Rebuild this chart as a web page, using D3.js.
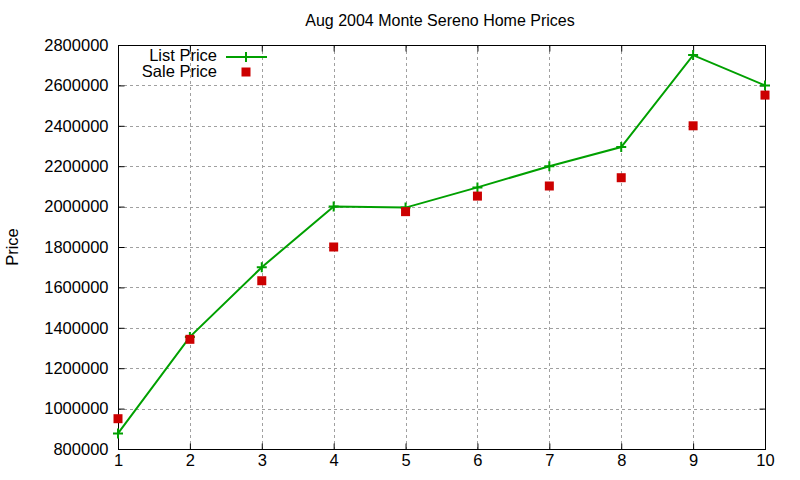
<!DOCTYPE html>
<html>
<head>
<meta charset="utf-8">
<script src="https://cdn.jsdelivr.net/npm/d3@7"></script>
<style>
  body { margin: 0; background: #fff; }
  text { font-family: "Liberation Sans", Arial, sans-serif; fill: #000; }
</style>
</head>
<body>
<svg id="chart" width="800" height="480"></svg>
<script>
// data
const houses = [1, 2, 3, 4, 5, 6, 7, 8, 9, 10];
const listPrice = [877000, 1355000, 1700000, 2000000, 1995000, 2095000, 2200000, 2295000, 2750000, 2600000];
const salePrice = [950000, 1343000, 1633000, 1800000, 1975000, 2052000, 2102000, 2143000, 2400000, 2552000];
const yTicks = [800000, 1000000, 1200000, 1400000, 1600000, 1800000, 2000000, 2200000, 2400000, 2600000, 2800000];

const svg = d3.select("#chart");
const plotL = 118, plotR = 765, plotT = 45, plotB = 449;
const fs = 16.5;

const x = d3.scaleLinear().domain([1, 10]).range([plotL, plotR]);
const y = d3.scaleLinear().domain([800000, 2800000]).range([plotB, plotT]);

// grid
const grid = svg.append("g").attr("stroke", "#a0a0a0").attr("stroke-width", 1).attr("stroke-dasharray", "3,3");
grid.selectAll("line.gx").data(houses.slice(1, -1)).join("line")
    .attr("x1", d => Math.round(x(d)) + 0.5).attr("x2", d => Math.round(x(d)) + 0.5)
    .attr("y1", plotT).attr("y2", plotB);
grid.selectAll("line.gy").data(yTicks.slice(1, -1)).join("line")
    .attr("y1", d => Math.round(y(d)) + 0.5).attr("y2", d => Math.round(y(d)) + 0.5)
    .attr("x1", plotL).attr("x2", plotR);

// axes, ticks inward and mirrored like gnuplot
const tick = 6;
const yAxis = d3.axisLeft(y).tickValues(yTicks).tickSize(-tick).tickPadding(10).tickFormat(d3.format("d"));
const xAxis = d3.axisBottom(x).tickValues(houses).tickSize(-tick).tickPadding(5).tickFormat(d3.format("d"));

svg.append("g").attr("transform", `translate(${plotL + 0.5},0)`).call(yAxis);
svg.append("g").attr("transform", `translate(0,${plotB + 0.5})`).call(xAxis);
svg.append("g").attr("transform", `translate(${plotR + 0.5},0)`)
    .call(d3.axisRight(y).tickValues(yTicks).tickSize(-tick).tickFormat(""));
svg.append("g").attr("transform", `translate(0,${plotT + 0.5})`)
    .call(d3.axisTop(x).tickValues(houses).tickSize(-tick).tickFormat(""));

svg.selectAll(".domain").remove();
svg.selectAll(".tick line").attr("stroke", "#000");
svg.selectAll(".tick text").attr("font-size", fs).attr("font-family", "Liberation Sans, Arial, sans-serif");

// border
svg.append("rect")
    .attr("x", plotL + 0.5).attr("y", plotT + 0.5)
    .attr("width", plotR - plotL).attr("height", plotB - plotT)
    .attr("fill", "none").attr("stroke", "#000").attr("stroke-width", 1);

// list price line
const green = "#00a000", red = "#cc0000";
svg.append("path")
    .datum(houses)
    .attr("fill", "none").attr("stroke", green).attr("stroke-width", 2)
    .attr("d", d3.line().x(d => x(d)).y((d, i) => y(listPrice[i])));

const cross = 5;
svg.append("g").selectAll("path").data(houses).join("path")
    .attr("stroke", green).attr("stroke-width", 2).attr("fill", "none")
    .attr("d", (d, i) => {
        const cx = x(d), cy = y(listPrice[i]);
        return `M${cx - cross},${cy}H${cx + cross}M${cx},${cy - cross}V${cy + cross}`;
    });

// sale price squares
const sq = 9;
svg.append("g").selectAll("rect").data(houses).join("rect")
    .attr("fill", red)
    .attr("x", d => x(d) - sq / 2)
    .attr("y", (d, i) => y(salePrice[i]) - sq / 2)
    .attr("width", sq).attr("height", sq);

// title and axis label
svg.append("text").attr("x", 440).attr("y", 26).attr("text-anchor", "middle")
    .attr("font-size", 16).text("Aug 2004 Monte Sereno Home Prices");
svg.append("text").attr("transform", "translate(18,247) rotate(-90)")
    .attr("text-anchor", "middle").attr("font-size", fs).text("Price");

// legend
const legend = svg.append("g");
legend.append("text").attr("x", 217).attr("y", 61).attr("text-anchor", "end")
    .attr("font-size", fs).text("List Price");
legend.append("line").attr("x1", 226).attr("x2", 267).attr("y1", 57).attr("y2", 57)
    .attr("stroke", green).attr("stroke-width", 2);
legend.append("path").attr("stroke", green).attr("stroke-width", 2)
    .attr("d", `M${246 - cross},57H${246 + cross}M246,${57 - cross}V${57 + cross}`);
legend.append("text").attr("x", 217).attr("y", 77).attr("text-anchor", "end")
    .attr("font-size", fs).text("Sale Price");
legend.append("rect").attr("x", 246 - sq / 2).attr("y", 72 - sq / 2)
    .attr("width", sq).attr("height", sq).attr("fill", red);
</script>
</body>
</html>
